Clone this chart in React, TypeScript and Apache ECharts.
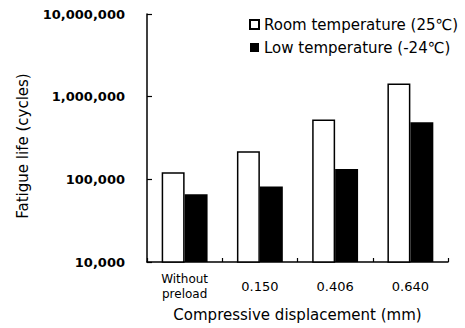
import React, { useEffect, useRef } from "react";
import * as echarts from "echarts";

const categories = ["Without\npreload", "0.150", "0.406", "0.640"];
const roomTemp = [122000, 219000, 528000, 1446000];
const lowTemp = [66000, 82000, 133000, 490000];
const seriesNames = ["Room temperature (25℃)", "Low temperature (-24℃)"];
const yTitle = "Fatigue life (cycles)";
const xTitle = "Compressive displacement (mm)";

const FONT = "DejaVu Sans";

export default function App() {
  const ref = useRef<HTMLDivElement>(null);
  useEffect(() => {
    if (!ref.current) return;
    const chart = echarts.init(ref.current, undefined, { renderer: "svg" });
    chart.setOption({
      animation: false,
      backgroundColor: "#ffffff",
      grid: { left: 147, right: 17, top: 14, bottom: 66, containLabel: false },
      legend: {
        orient: "vertical",
        left: 244,
        top: 12,
        itemWidth: 9,
        itemHeight: 9,
        itemGap: 8,
        icon: "rect",
        textStyle: { fontFamily: FONT, fontSize: 15, color: "#000" },
        data: seriesNames,
      },
      xAxis: {
        type: "category",
        data: categories,
        name: xTitle,
        nameLocation: "middle",
        nameGap: 45,
        nameTextStyle: { fontFamily: FONT, fontSize: 15, color: "#000" },
        axisLine: { lineStyle: { color: "#000", width: 1.5 } },
        axisTick: { show: true, inside: true, length: 4, lineStyle: { color: "#000", width: 1.2 } },
        axisLabel: {
          interval: 0,
          fontFamily: FONT,
          fontSize: 13,
          color: "#000",
          margin: 24,
          verticalAlign: "middle",
          lineHeight: 15,
          formatter: (v: string) =>
            v.includes("\n") ? v.split("\n").map((l) => `{s|${l}}`).join("\n") : v,
          rich: { s: { fontFamily: FONT, fontSize: 12, color: "#000", lineHeight: 15 } },
        },
      },
      yAxis: {
        type: "log",
        logBase: 10,
        min: 10000,
        max: 10000000,
        name: yTitle,
        nameLocation: "middle",
        nameGap: 117,
        nameRotate: 90,
        nameTextStyle: { fontFamily: FONT, fontSize: 15, color: "#000", padding: [0, 16, 0, 0] },
        axisLine: { show: true, lineStyle: { color: "#000", width: 1.5 } },
        axisTick: { show: true, inside: true, length: 5, lineStyle: { color: "#000", width: 1.2 } },
        splitLine: { show: false },
        axisLabel: {
          fontFamily: FONT,
          fontWeight: "bold",
          fontSize: 13,
          color: "#000",
          margin: 22,
          formatter: (v: number) => Math.round(v).toLocaleString("en-US"),
        },
      },
      series: [
        {
          name: seriesNames[0],
          type: "bar",
          data: roomTemp,
          barGap: "0%",
          barCategoryGap: "39%",
          itemStyle: { color: "#ffffff", borderColor: "#000", borderWidth: 1.5 },
        },
        {
          name: seriesNames[1],
          type: "bar",
          data: lowTemp,
          itemStyle: { color: "#000000" },
        },
      ],
    });
    return () => chart.dispose();
  }, []);
  return (
    <div
      ref={ref}
      style={{ position: "fixed", left: 0, top: 0, width: 465, height: 328, background: "#fff" }}
    />
  );
}
